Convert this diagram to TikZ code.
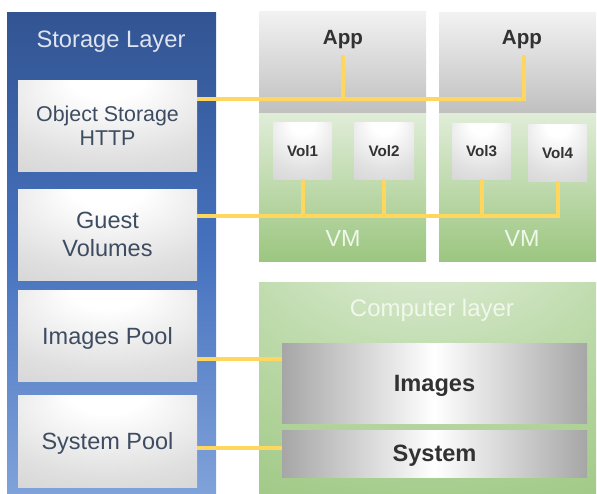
\documentclass[tikz,border=0pt]{standalone}
\usepackage{fontspec}
\setmainfont{Liberation Sans}
\usetikzlibrary{calc}

\definecolor{bluetop}{RGB}{50,84,146}
\definecolor{bluemid}{RGB}{70,114,190}
\definecolor{bluebot}{RGB}{128,162,218}
\definecolor{greentop}{RGB}{224,237,216}
\definecolor{greenmid}{RGB}{190,219,172}
\definecolor{greenbot}{RGB}{156,198,128}
\definecolor{apptop}{RGB}{242,242,242}
\definecolor{appbot}{RGB}{192,192,192}
\definecolor{boxlight}{RGB}{224,224,224}
\definecolor{boxgray}{RGB}{182,182,182}
\definecolor{slabgray}{RGB}{166,166,166}
\definecolor{wirecol}{RGB}{255,214,94}
\definecolor{slate}{RGB}{62,76,98}
\definecolor{ink}{RGB}{50,50,50}
\definecolor{paletext}{RGB}{222,229,240}
\definecolor{greentext}{RGB}{240,248,236}

% highlight near the top centre, fading to grey at the corners
\pgfdeclareradialshading{hilite}{\pgfpoint{0bp}{28bp}}{%
  color(0bp)=(white); color(10bp)=(white); color(35bp)=(boxlight); color(85bp)=(boxgray)}
% soft light spot at the top of the green compute panel
\pgfdeclareradialshading{glow}{\pgfpoint{0bp}{45bp}}{%
  color(0bp)=(greentop); color(6bp)=(greentop); color(28bp)=(greenmid);
  color(58bp)=(greenbot); color(100bp)=(greenbot)}

\tikzset{
  panel/.style={rectangle, inner sep=0pt, draw=none},
  stbox/.style={rectangle, inner sep=0pt, draw=none, shading=hilite,
    minimum width=179pt, minimum height=91pt, align=center, text=slate,
    font=\fontsize{23.5}{28}\selectfont},
  volbox/.style={rectangle, inner sep=0pt, draw=none, shading=hilite,
    minimum width=59pt, minimum height=57pt, text=ink, text depth=0pt,
    font=\fontsize{15.2}{18}\selectfont\bfseries},
  slab/.style={rectangle, inner sep=0pt, draw=none,
    left color=slabgray, right color=slabgray, middle color=white,
    minimum width=305pt, text=ink, text depth=0pt,
    font=\fontsize{23.6}{28}\selectfont\bfseries},
  apptext/.style={text=ink, text depth=0pt, font=\fontsize{20.6}{24}\selectfont\bfseries},
  vmtext/.style={text=greentext, font=\fontsize{23.3}{28}\selectfont},
  wire/.style={draw=wirecol, line width=4pt, line join=miter, line cap=butt},
}

\begin{document}
\begin{tikzpicture}[x=1pt,y=-1pt]
\useasboundingbox (0,0) rectangle (597,493);

% storage layer column
\node[panel, minimum width=209pt, minimum height=481pt,
      top color=bluetop, bottom color=bluebot, middle color=bluemid]
      (storage) at (111.5,252.5) {};
\node[text=paletext, text depth=0pt, font=\fontsize{23.7}{28}\selectfont] (stitle) at (111,39) {Storage Layer};

\node[stbox, font=\fontsize{21.4}{24}\selectfont] (obj) at (107.5,125.5) {Object Storage\\HTTP};
\node[stbox] (guest) at (107.5,234.5) {\raisebox{-2pt}{Guest}\\\raisebox{-2pt}{Volumes}};
\node[stbox, text depth=0pt] (ipool) at (107.5,335.5) {Images Pool};
\node[stbox, text depth=0pt, minimum height=92pt] (spool) at (107.5,441) {System Pool};

% first virtual machine
\node[panel, minimum width=167pt, minimum height=102pt,
      top color=apptop, bottom color=appbot] (app1box) at (342.5,62) {};
\node[panel, minimum width=167pt, minimum height=148pt,
      top color=greentop, bottom color=greenbot] (vm1) at (342.5,187) {};
\node[apptext] (app1) at (343,37) {App};
\node[vmtext] (vm1label) at (343,238) {VM};

% second virtual machine
\node[panel, minimum width=157pt, minimum height=101pt,
      top color=apptop, bottom color=appbot] (app2box) at (517.5,62.5) {};
\node[panel, minimum width=157pt, minimum height=148pt,
      top color=greentop, bottom color=greenbot] (vm2) at (517.5,187) {};
\node[apptext] (app2) at (522,37) {App};
\node[vmtext] (vm2label) at (522,238) {VM};

% volumes
\node[volbox] (vol1) at (302.5,150.5) {Vol1};
\node[volbox, minimum width=60pt] (vol2) at (384,150.5) {Vol2};
\node[volbox, minimum height=56pt] (vol3) at (481.5,151) {Vol3};
\node[volbox] (vol4) at (557.5,152.5) {Vol4};

% compute layer
\node[panel, minimum width=337pt, minimum height=211pt, shading=glow]
      (compute) at (427.5,387.5) {};
\node[text=greentext, text depth=0pt, font=\fontsize{24}{28}\selectfont] (ctitle) at (432,308) {Computer layer};
\node[slab, minimum height=80pt] (images) at (434.5,383) {Images};
\node[slab, minimum height=47pt] (system) at (434.5,453.5) {System};

% connectors
\coordinate (tapA) at (343,98.5);
\coordinate (app1port) at (343,55);
\coordinate (app2port) at (524,55);
\coordinate (busB) at (0,216);
\draw[wire] (obj.east |- tapA) -| (app2port);
\draw[wire] (tapA) -- (app1port);
\draw[wire] (guest.east |- busB) -| (vol4.south);
\foreach \v in {vol1,vol2,vol3}
  \draw[wire] (\v.south) -- (\v.south |- busB);
\coordinate (busC) at (0,359);
\coordinate (busD) at (0,448);
\draw[wire] (ipool.east |- busC) -- (images.west |- busC);
\draw[wire] (spool.east |- busD) -- (system.west |- busD);
\end{tikzpicture}
\end{document}
